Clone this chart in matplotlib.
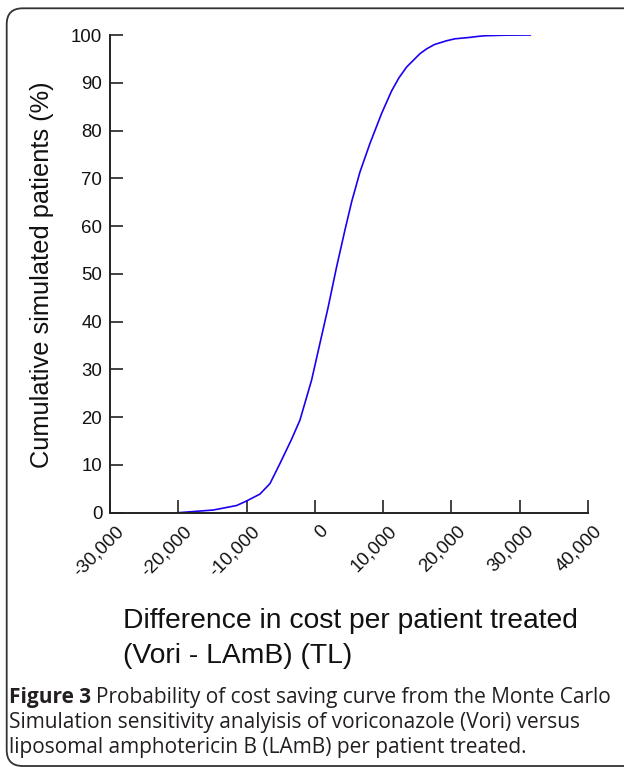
import matplotlib
matplotlib.use("Agg")
import matplotlib.pyplot as plt
from matplotlib.patches import FancyBboxPatch
from matplotlib.transforms import ScaledTranslation

# curve points
cost_diff = [-20000, -14880, -11460, -10000, -8040, -6570, -5110, -3400,
             -2180, -470, 750, 1960, 3190, 4410, 5390, 6600, 8070, 9780, 11240,
             12300, 13440, 15400, 16370, 17500, 19300, 20500, 22710, 23800,
             25000, 28000, 31550]
cum_pct = [0, 0.56, 1.5, 2.45, 3.9, 6.1, 10.3, 15.4, 19.4, 27.8, 35.5,
           43.1, 51.5, 59.2, 65.1, 71.3, 77.3, 83.6, 88.3, 91.0, 93.3, 96.1,
           97.1, 98.0, 98.8, 99.2, 99.5, 99.7, 99.85, 99.97, 100]

x_ticks = [-30000, -20000, -10000, 0, 10000, 20000, 30000, 40000]
y_ticks = [0, 10, 20, 30, 40, 50, 60, 70, 80, 90, 100]

W, H = 624, 767
fig = plt.figure(figsize=(W / 100, H / 100), dpi=100)
plt.rcParams['font.family'] = ['Liberation Sans', 'DejaVu Sans']

# rounded frame around the figure
frame = FancyBboxPatch((6.7, 1), 700, H - 8.3 - 1,
                       boxstyle="round,pad=0,rounding_size=16",
                       transform=None, fill=False, edgecolor='#333333', linewidth=1.3)
fig.patches.append(frame)

ax = fig.add_axes([110 / W, 1 - 512.7 / H, 478 / W, (512.7 - 35) / H])
ax.plot(cost_diff, cum_pct, color='#1c00f2', linewidth=1.2)

ax.set_xlim(-30000, 40000)
ax.set_ylim(0, 100)
for s in ['top', 'right']:
    ax.spines[s].set_visible(False)
for s in ['left', 'bottom']:
    ax.spines[s].set_color('#222222')
    ax.spines[s].set_linewidth(1.4)

ax.set_yticks(y_ticks)
ax.set_yticklabels([str(v) for v in y_ticks])
ax.set_xticks(x_ticks)
ax.set_xticklabels(['{:,}'.format(v) for v in x_ticks])

ax.tick_params(axis='both', direction='in', length=9.5, width=1.2, color='#222222',
               labelsize=13.4, labelcolor='#111111')
ax.tick_params(axis='y', pad=5.5)
ax.tick_params(axis='x', pad=11.5)

offset = ScaledTranslation(11 / 100, 0, fig.dpi_scale_trans)
for lab in ax.get_xticklabels():
    lab.set_rotation(45)
    lab.set_rotation_mode('anchor')
    lab.set_ha('right')
    lab.set_va('center')
    lab.set_transform(lab.get_transform() + offset)

# axis titles
fig.text(42 / W, 1 - 275 / H, 'Cumulative simulated patients (%)', rotation=90,
         ha='center', va='center', fontsize=18.3, color='#111111')
fig.text(123 / W, 1 - 628 / H, 'Difference in cost per patient treated',
         ha='left', va='baseline', fontsize=20.3, color='#111111')
fig.text(123 / W, 1 - 663 / H, '(Vori - LAmB) (TL)',
         ha='left', va='baseline', fontsize=20.3, color='#111111')

# caption
cap_font = ['Open Sans', 'DejaVu Sans']
cap_color = '#231f20'
cap_size = 15
lead = fig.text(9 / W, 1 - 703 / H, 'Figure 3', fontsize=cap_size, fontweight='bold',
                family=cap_font, color=cap_color, va='baseline')
fig.canvas.draw()
bb = lead.get_window_extent()
fig.text((bb.x1 + 5) / W, 1 - 703 / H,
         'Probability of cost saving curve from the Monte Carlo',
         fontsize=cap_size, family=cap_font, color=cap_color, va='baseline')
fig.text(9 / W, 1 - 728 / H,
         'Simulation sensitivity analyisis of voriconazole (Vori) versus',
         fontsize=cap_size, family=cap_font, color=cap_color, va='baseline')
fig.text(9 / W, 1 - 753 / H,
         'liposomal amphotericin B (LAmB) per patient treated.',
         fontsize=cap_size, family=cap_font, color=cap_color, va='baseline')

fig.savefig('out.png', dpi=100)
